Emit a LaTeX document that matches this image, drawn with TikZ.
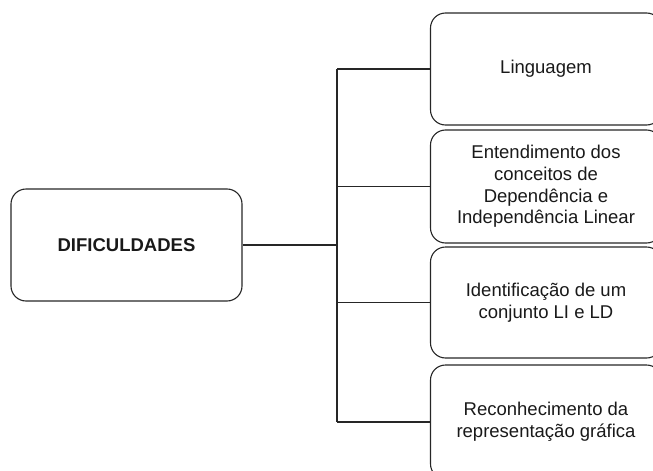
\documentclass[tikz,border=0pt]{standalone}
\usepackage{fontspec}
\setmainfont{Liberation Sans}
\begin{document}
\begin{tikzpicture}[x=1pt,y=-1pt,
  box/.style={draw=black!85, line width=1.1pt, rounded corners=15pt,
    minimum width=231pt, inner sep=2pt, align=center, text=black!90,
    font=\fontsize{18.5}{21.7}\selectfont},
  link/.style={draw=black!85, line width=1.1pt}]
\useasboundingbox (0,0) rectangle (653,471);
\clip (0,0) rectangle (653,471);

% root box
\node[box, minimum height=112pt] (root) at (126.5,245) {\textbf{DIFICULDADES}};

% branch boxes
\node[box, minimum height=112pt] (b1) at (546,69) {Linguagem};
\node[box, minimum height=113pt] (b2) at (546,186.5)
  {Entendimento dos\\conceitos de\\Dependência e\\Independência Linear};
\node[box, minimum height=111pt] (b3) at (546,302.5)
  {Identificação de um\\conjunto LI e LD};
\node[box, minimum height=114pt] (b4) at (546,422)
  {Reconhecimento da\\representação gráfica};

% tree connectors
\coordinate (j) at (337,245);
\draw[link] (root.east) -- (j);
\draw[link] (j |- b1.west) -- (j |- b4.west);
\foreach \b in {b1,b2,b3,b4}
  \draw[link] (j |- \b.west) -- (\b.west);
\end{tikzpicture}
\end{document}
